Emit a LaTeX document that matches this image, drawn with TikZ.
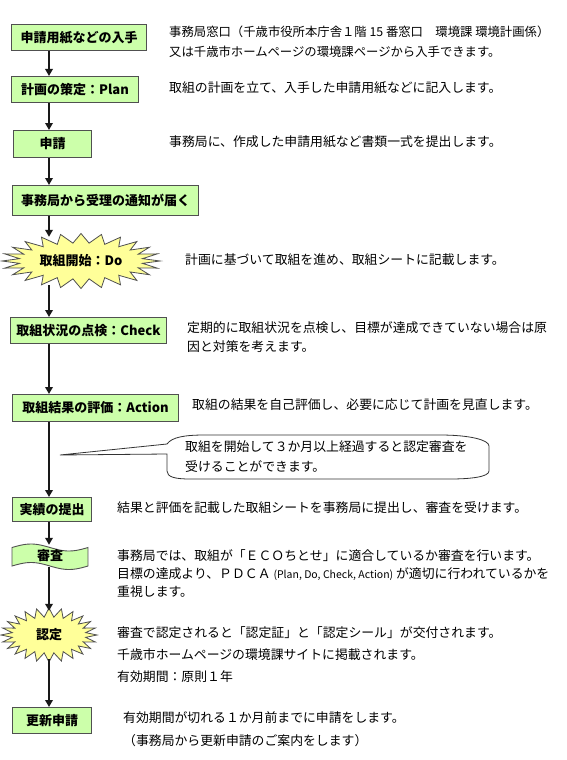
\documentclass[tikz,border=0pt]{standalone}
\usepackage{fontspec}
\setmainfont{Noto Sans CJK JP}
\usetikzlibrary{arrows.meta}
\definecolor{boxgreen}{RGB}{204,255,170}
\definecolor{staryellow}{RGB}{255,255,153}
\definecolor{edgegray}{RGB}{80,80,80}
\begin{document}
\begin{tikzpicture}[x=1pt,y=-1pt,
  stepbox/.style={draw=edgegray, line width=1.1pt, fill=boxgreen, inner sep=0pt, anchor=north west,
    font=\bfseries\fontsize{13}{15}\selectfont},
  starshape/.style={draw=edgegray, line width=0.8pt, fill=staryellow},
  tapeshape/.style={draw=edgegray, line width=0.9pt, fill=boxgreen},
  lbl/.style={inner sep=0pt, font=\bfseries\fontsize{13}{15}\selectfont},
  desc/.style={anchor=west, inner sep=0pt, font=\fontsize{12.85}{14}\selectfont},
  descnarrow/.style={desc, font=\fontsize{12.35}{14}\selectfont},
  conn/.style={line width=1.8pt, draw=black!90, -{Triangle[length=7pt,width=7.5pt]}},
  calloutshape/.style={draw=black!80, line width=0.8pt, fill=white}
]
\useasboundingbox (0,0) rectangle (567,760);
\fill[white] (0,0) rectangle (567,760);
\coordinate (ax) at (49,0);

% boxes
\node[stepbox, minimum width=135, minimum height=26] (b1) at (11,24) {申請用紙などの入手};
\node[stepbox, minimum width=127, minimum height=26] (b2) at (11,76) {計画の策定：Plan};
\node[stepbox, minimum width=78, minimum height=27] (b3) at (13,130) {申請};
\node[stepbox, minimum width=186, minimum height=30] (b4) at (12,185) {事務局から受理の通知が届く};

% star 1
\coordinate (c1) at (81,261);
\draw[starshape, shift={(c1)}] plot[samples at={0,...,47}, variable=\i]
  ({ifthenelse(mod(\i,2)==0,79,62)*cos(\i*7.5)}, {ifthenelse(mod(\i,2)==0,27.5,18)*sin(\i*7.5)}) -- cycle;
\node[lbl, minimum width=120, minimum height=48] (s1) at (c1) {取組開始：Do};

\node[stepbox, minimum width=156, minimum height=26] (b6) at (10,317) {取組状況の点検：Check};
\node[stepbox, minimum width=166, minimum height=27] (b7) at (12,394) {取組結果の評価：Action};
\node[stepbox, minimum width=79, minimum height=24] (b8) at (12,497) {実績の提出};

% tape
\draw[tapeshape] plot[domain=0:1, samples=30] ({12+76*\x}, {547.5-3.5*sin(360*\x)})
  -- plot[domain=1:0, samples=30] ({12+76*\x}, {566-3.5*sin(360*\x)}) -- cycle;
\node[lbl, minimum width=76, minimum height=22] (t9) at (50,556) {審査};

% star 2
\coordinate (c2) at (49,635);
\draw[starshape, shift={(c2)}] plot[samples at={0,...,47}, variable=\i]
  ({ifthenelse(mod(\i,2)==0,48,37)*cos(\i*7.5)}, {ifthenelse(mod(\i,2)==0,27,18)*sin(\i*7.5)}) -- cycle;
\node[lbl, minimum width=60, minimum height=48] (s2) at (c2) {認定};

\node[stepbox, minimum width=79, minimum height=26] (b11) at (12,707) {更新申請};

% connectors
\draw[conn] (b1.south -| ax) -- (b2.north -| ax);
\draw[conn] (b2.south -| ax) -- (b3.north -| ax);
\draw[conn] (b3.south -| ax) -- (b4.north -| ax);
\draw[conn] (b4.south -| ax) -- (s1.north -| ax);
\draw[conn] (s1.south -| ax) -- (b6.north -| ax);
\draw[conn] (b6.south -| ax) -- (b7.north -| ax);
\draw[conn] (b7.south -| ax) -- (b8.north -| ax);
\draw[conn] (b8.south -| ax) -- (t9.north -| ax);
\draw[conn] (t9.south -| ax) -- (s2.north -| ax);
\draw[conn] (s2.south -| ax) -- (b11.north -| ax);

% callout
\coordinate (tip) at (60,455);
\draw[calloutshape] (tip) -- (167,444) .. controls (172,437) and (185,435) .. (205,435)
  -- (440,435) .. controls (470,435) and (489,440) .. (489,446)
  -- (489,471) .. controls (489,477) and (470,479) .. (450,479)
  -- (190,479) .. controls (175,479) and (167,477) .. (167,471)
  -- (167,454) -- cycle;
\node[desc] (ca) at (185,447) {取組を開始して３か月以上経過すると認定審査を};
\node[desc] (cb) at (185,467) {受けることができます。};

% descriptions
\node[descnarrow] (d1a) at (169,32) {事務局窓口（千歳市役所本庁舎１階 15 番窓口　環境課 環境計画係）};
\node[descnarrow] (d1b) at (169,52) {又は千歳市ホームページの環境課ページから入手できます。};
\node[desc] (d2) at (169,88) {取組の計画を立て、入手した申請用紙などに記入します。};
\node[desc] (d3) at (169,142) {事務局に、作成した申請用紙など書類一式を提出します。};
\node[desc] (d5) at (185,260) {計画に基づいて取組を進め、取組シートに記載します。};
\node[desc] (d6a) at (187,328) {定期的に取組状況を点検し、目標が達成できていない場合は原};
\node[desc] (d6b) at (187,347) {因と対策を考えます。};
\node[desc] (d7) at (192,405) {取組の結果を自己評価し、必要に応じて計画を見直します。};
\node[desc] (d8) at (117,508) {結果と評価を記載した取組シートを事務局に提出し、審査を受けます。};
\node[desc] (d9a) at (117,556) {事務局では、取組が「ＥＣＯちとせ」に適合しているか審査を行います。};
\node[desc] (d9b) at (117,574) {目標の達成より、ＰＤＣＡ {\fontsize{10.5}{12}\selectfont(Plan, Do, Check, Action)} が適切に行われているかを};
\node[desc] (d9c) at (117,592) {重視します。};
\node[desc] (d10a) at (117,633) {審査で認定されると「認定証」と「認定シール」が交付されます。};
\node[desc] (d10b) at (117,655) {千歳市ホームページの環境課サイトに掲載されます。};
\node[desc] (d10c) at (117,677) {有効期間：原則１年};
\node[desc] (d11a) at (123,718) {有効期間が切れる１か月前までに申請をします。};
\node[desc] (d11b) at (123,741) {（事務局から更新申請のご案内をします）};
\end{tikzpicture}
\end{document}
